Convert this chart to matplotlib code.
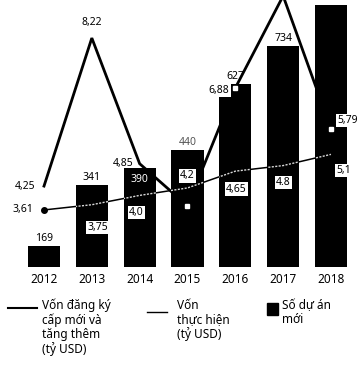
import numpy as np
import matplotlib
matplotlib.use("Agg")
import matplotlib.pyplot as plt
from matplotlib.lines import Line2D
from matplotlib.patches import Rectangle

plt.rcParams['font.family'] = ['Noto Sans', 'DejaVu Sans']

# ----- Data -----
years = ['2012', '2013', '2014', '2015', '2016', '2017', '2018']
projects = [169, 341, 390, 440, 627, 734, 850]            # new projects
registered = [4.25, 8.22, 4.85, 3.72, 6.88, 9.35, 5.79]   # registered capital (bn USD)
disbursed = [3.61, 3.75, 4.0, 4.2, 4.65, 4.8, 5.1]        # disbursed capital (bn USD)
reg_labels = ['4,25', '8,22', '4,85', '3,72', '6,88', None, '5,79']
dis_labels = ['3,61', '3,75', '4,0', '4,2', '4,65', '4.8', '5,1']

x = np.arange(len(years))
W, H = 363, 372

fig = plt.figure(figsize=(W / 100, H / 100), dpi=100)
ax_back = fig.add_axes([0, 1 - 267 / H, 1, 267 / H])
ax_bar = ax_back.twinx()
ax_top = ax_back.twinx()
ax_back.set_zorder(0)
ax_bar.set_zorder(1)
ax_top.set_zorder(2)

for a in (ax_back, ax_bar, ax_top):
    for s in a.spines.values():
        s.set_visible(False)
    a.set_yticks([])

ax_back.set_xlim(-0.92, 6.67)
ax_back.set_ylim(2.08, 9.24)
ax_top.set_ylim(2.08, 9.24)
ax_bar.set_ylim(109, 864)

ax_back.set_xticks(x)
ax_back.set_xticklabels(years, fontsize=8.5, fontweight='bold')
ax_back.tick_params(axis='x', length=0, pad=4)

# bars
bars = ax_bar.bar(x, projects, width=0.67, color='black')

# registered capital: thick line behind the bars
ax_back.plot(x, registered, color='black', lw=2, solid_joinstyle='miter')
# disbursed capital: thin line, light where it crosses the bars
ax_back.plot(x, disbursed, color='black', lw=1.1)
for b in bars:
    ln, = ax_top.plot(x, disbursed, color='#d8d8d8', lw=1, ls=(0, (1.5, 1)))
    ln.set_clip_path(b)

ax_top.plot(x[0], disbursed[0], 'o', color='black', ms=4)
idx = [3, 4, 6]
ax_top.plot(x[idx], np.array(registered)[idx], 's', color='white', ms=3)

white_box = dict(boxstyle='square,pad=0.12', fc='white', ec='none')

# registered capital labels
reg_pos = [((-9, 0), 'right', None), ((0, 16), 'center', None),
           ((-6, 0), 'right', None), ((2, -17), 'center', None),
           ((-6, -2), 'right', white_box), None, ((6, 8), 'left', white_box)]
for xi, v, lab, pos in zip(x, registered, reg_labels, reg_pos):
    if lab is None:
        continue
    off, ha, box = pos
    ax_top.annotate(lab, (xi, v), xytext=off, textcoords='offset pixels',
                    ha=ha, va='center', fontsize=7.5, bbox=box)

# disbursed capital labels
dis_pos = [((-11, 0), 'right', None), ((6, -23), 'center', white_box),
           ((-3, -17), 'center', white_box), ((0, 12), 'center', white_box),
           ((1, -18), 'center', white_box), ((0, -17), 'center', white_box),
           ((13, -16), 'center', white_box)]
for xi, v, lab, (off, ha, box) in zip(x, disbursed, dis_labels, dis_pos):
    ax_top.annotate(lab, (xi, v), xytext=off, textcoords='offset pixels',
                    ha=ha, va='center', fontsize=7.5, bbox=box)

# project counts
for i, (xi, v) in enumerate(zip(x, projects)):
    if i == 2:
        ax_top.annotate(str(v), (xi, 0), xycoords=('data', 'axes fraction'),
                        xytext=(0, 267 - 180), textcoords='offset pixels',
                        ha='center', va='center', fontsize=7.5,
                        fontweight='bold', color='white')
    else:
        ax_bar.annotate(str(v), (xi, v), xytext=(0, 2), textcoords='offset pixels',
                        ha='center', va='bottom', fontsize=7.5,
                        color='#555555' if i == 3 else 'black')

# ----- Legend -----
def fx(px):
    return px / W

def fy(py):
    return 1 - py / H

fig.add_artist(Line2D([fx(8), fx(37)], [fy(308), fy(308)], color='black', lw=1.5))
fig.text(fx(42), fy(299), 'Vốn đăng ký\ncấp mới và\ntăng thêm\n(tỷ USD)',
         fontsize=8.5, va='top', ha='left', linespacing=1.1)
fig.add_artist(Line2D([fx(147), fx(167)], [fy(312), fy(312)], color='black', lw=1))
fig.text(fx(177), fy(299), 'Vốn\nthực hiện\n(tỷ USD)',
         fontsize=8.5, va='top', ha='left', linespacing=1.1)
fig.add_artist(Rectangle((fx(267), fy(315)), 11 / W, 12 / H, color='black',
                         transform=fig.transFigure))
fig.text(fx(282), fy(299), 'Số dự án\nmới',
         fontsize=8.5, va='top', ha='left', linespacing=1.1)

fig.savefig('out.png', dpi=100)
